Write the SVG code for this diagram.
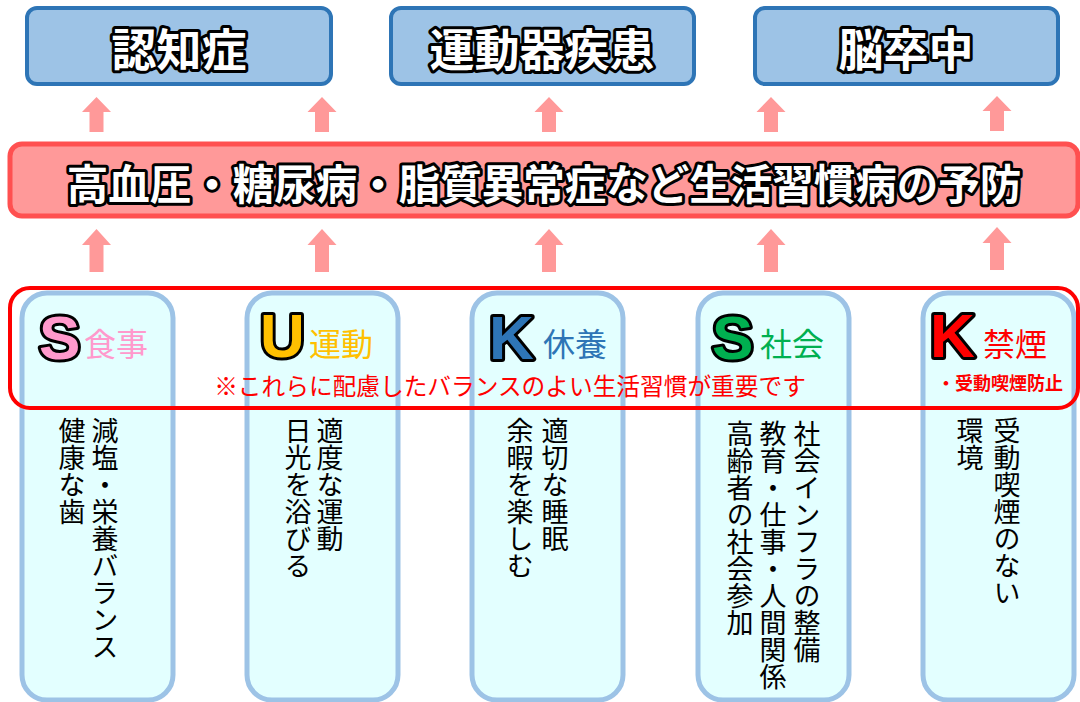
<svg xmlns="http://www.w3.org/2000/svg" width="1080" height="702" viewBox="0 0 1080 702">
<style>
.top{fill:#9dc3e6;stroke:#2e75b6;stroke-width:4}
.title{font-family:"Noto Sans CJK JP","Noto Sans",sans-serif;font-weight:bold;fill:#fff;stroke:#000;stroke-width:6;stroke-linejoin:round;paint-order:stroke;text-anchor:middle}
.arrow{fill:#ff9999}
.col{fill:#e3ffff;stroke:#9dc3e6;stroke-width:5}
.big{font-family:"Liberation Sans",Arial,sans-serif;font-weight:bold;font-size:62px;stroke:#000;stroke-width:6;stroke-linejoin:round;paint-order:stroke}
.hd{font-family:"Noto Sans CJK JP",sans-serif;font-size:32px}
.vt{font-family:"Noto Sans CJK JP",sans-serif;font-size:27px;fill:#000;writing-mode:vertical-rl}
</style>
<rect width="1080" height="702" fill="#fff"/>
<g id="node-dementia"><rect class="top" x="27" y="8" width="304" height="76" rx="10"/><text class="title" x="179" y="67" font-size="45">認知症</text></g>
<g id="node-locomotive"><rect class="top" x="391" y="8" width="303" height="76" rx="10"/><text class="title" x="542" y="67" font-size="45">運動器疾患</text></g>
<g id="node-stroke"><rect class="top" x="755" y="8" width="303" height="76" rx="10"/><text class="title" x="906" y="67" font-size="45">脳卒中</text></g>
<g id="node-prevention"><rect x="10" y="144" width="1068" height="72" rx="12" fill="#ff9999" stroke="#ff5050" stroke-width="5"/><text class="title" x="544" y="200" font-size="41.5">高血圧・糖尿病・脂質異常症など生活習慣病の予防</text></g>
<g id="connectors">
<path class="arrow" d="M96.5 97 L111 112 L103.5 112 L103.5 132 L89.5 132 L89.5 112 L82 112 Z"/>
<path class="arrow" d="M322 97 L336.5 112 L329 112 L329 132 L315 132 L315 112 L307.5 112 Z"/>
<path class="arrow" d="M549 97 L563.5 112 L556 112 L556 132 L542 132 L542 112 L534.5 112 Z"/>
<path class="arrow" d="M771 97 L785.5 112 L778 112 L778 132 L764 132 L764 112 L756.5 112 Z"/>
<path class="arrow" d="M997 96 L1011.5 111 L1004 111 L1004 131 L990 131 L990 111 L982.5 111 Z"/>
<path class="arrow" d="M96.5 229 L111 245 L103.5 245 L103.5 272 L89.5 272 L89.5 245 L82 245 Z"/>
<path class="arrow" d="M322 229 L336.5 245 L329 245 L329 272 L315 272 L315 245 L307.5 245 Z"/>
<path class="arrow" d="M549 229 L563.5 245 L556 245 L556 272 L542 272 L542 245 L534.5 245 Z"/>
<path class="arrow" d="M771 229 L785.5 245 L778 245 L778 272 L764 272 L764 245 L756.5 245 Z"/>
<path class="arrow" d="M997 227 L1011.5 243 L1004 243 L1004 270 L990 270 L990 243 L982.5 243 Z"/>
</g>
<g id="node-col-diet"><rect class="col" x="22" y="293" width="151" height="407" rx="25"/></g>
<g id="node-col-exercise"><rect class="col" x="247" y="293" width="151" height="407" rx="25"/></g>
<g id="node-col-rest"><rect class="col" x="472" y="293" width="151" height="407" rx="25"/></g>
<g id="node-col-social"><rect class="col" x="698" y="293" width="151" height="407" rx="25"/></g>
<g id="node-col-smoking"><rect class="col" x="923" y="293" width="151" height="407" rx="25"/></g>
<g id="node-balance">
<rect x="10" y="288" width="1068" height="120" rx="20" fill="none" stroke="#ff0000" stroke-width="4"/>
<text x="510" y="395" font-family="Noto Sans CJK JP,sans-serif" font-size="23.7" fill="#ff0000" text-anchor="middle">※これらに配慮したバランスのよい生活習慣が重要です</text>
</g>
<g id="header-diet"><text class="big" x="39" y="359" fill="#ff99cc">S</text><text class="hd" x="84" y="356" fill="#ff99cc">食事</text></g>
<g id="header-exercise"><text class="big" x="260" y="357" fill="#ffc000">U</text><text class="hd" x="309" y="356" fill="#ffc000">運動</text></g>
<g id="header-rest"><text class="big" x="489" y="359" fill="#2e75b6">K</text><text class="hd" x="543" y="356" fill="#2e75b6">休養</text></g>
<g id="header-social"><text class="big" x="712" y="359" fill="#00b050">S</text><text class="hd" x="760" y="356" fill="#00b050">社会</text></g>
<g id="header-smoking"><text class="big" x="930" y="357" fill="#ff0000">K</text><text class="hd" x="983" y="356" fill="#ff0000">禁煙</text>
<text x="937" y="390" font-family="Noto Sans CJK JP,sans-serif" font-weight="bold" font-size="18" fill="#ff0000">・受動喫煙防止</text></g>
<g id="text-diet"><text class="vt" x="105" y="417">減塩・栄養バランス</text><text class="vt" x="72" y="417">健康な歯</text></g>
<g id="text-exercise"><text class="vt" x="330" y="417">適度な運動</text><text class="vt" x="298" y="417">日光を浴びる</text></g>
<g id="text-rest"><text class="vt" x="555" y="417">適切な睡眠</text><text class="vt" x="520" y="417">余暇を楽しむ</text></g>
<g id="text-social"><text class="vt" x="807" y="420">社会インフラの整備</text><text class="vt" x="773" y="420">教育・仕事・人間関係</text><text class="vt" x="740" y="420">高齢者の社会参加</text></g>
<g id="text-smoking"><text class="vt" x="1007" y="417">受動喫煙のない</text><text class="vt" x="970" y="417">環境</text></g>
</svg>
